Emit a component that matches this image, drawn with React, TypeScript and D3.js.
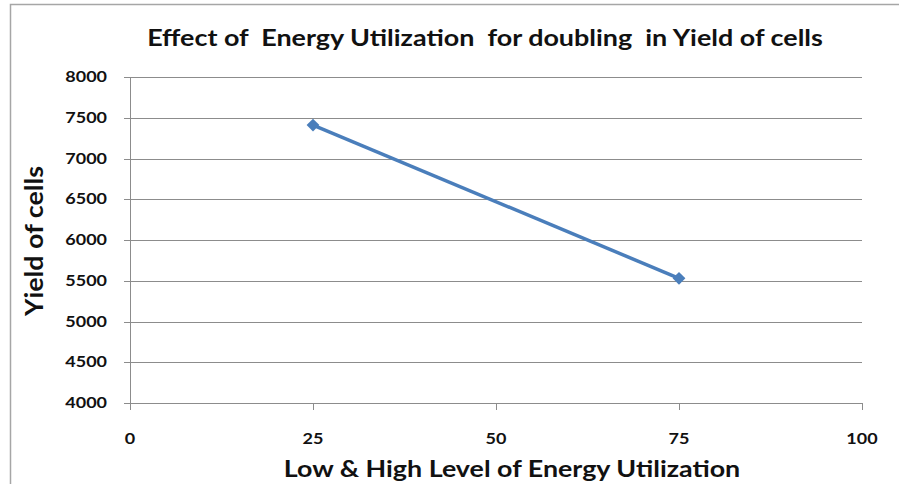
import React from "react";
import * as d3 from "d3";

const xValues = [25, 75];
const yValues = [7410, 5530];
const xTicks = [0, 25, 50, 75, 100];
const yTicks = [4000, 4500, 5000, 5500, 6000, 6500, 7000, 7500, 8000];
const title = "Effect of  Energy Utilization  for doubling  in Yield of cells";
const xTitle = "Low & High Level of Energy Utilization";
const yTitle = "Yield of cells";

export default function App() {
  const W = 899, H = 484;
  const left = 130, right = 862, top = 77, bottom = 403;
  const x = d3.scaleLinear().domain([0, 100]).range([left, right]);
  const y = d3.scaleLinear().domain([4000, 8000]).range([bottom, top]);
  const pts = xValues.map((v, i) => [x(v), y(yValues[i])] as [number, number]);
  const line = d3.line()(pts) || "";
  const marker = d3.symbol().type(d3.symbolSquare).size(82)() || "";
  const font = "Lato, 'Open Sans', sans-serif";
  const grid = "#8c8c8c";
  const sx = 1.2;
  return (
    <svg width={W} height={H} style={{ position: "absolute", left: 0, top: 0, background: "#fff" }}>
      <rect x={10.5} y={4.5} width={W} height={H} fill="#fff" stroke="#a6a6a6" strokeWidth={1.5} />
      <g transform={`translate(485,46) scale(1.17,1)`}>
        <text x={0} y={0} textAnchor="middle" fontFamily={font} fontWeight="bold" fontSize={23}
          style={{ whiteSpace: "pre" }} fill="#111">{title}</text>
      </g>
      {yTicks.map((t) => (
        <g key={t}>
          <line x1={left - 6} x2={right} y1={Math.round(y(t)) + 0.5} y2={Math.round(y(t)) + 0.5} stroke={grid} strokeWidth={1} />
          <g transform={`translate(107,${y(t) + 5}) scale(${sx},1)`}>
            <text x={0} y={0} textAnchor="end" fontFamily={font} fontWeight="bold" fontSize={15} fill="#111">{t}</text>
          </g>
        </g>
      ))}
      <line x1={left + 0.5} x2={left + 0.5} y1={top} y2={bottom} stroke={grid} strokeWidth={1} />
      {xTicks.map((t) => (
        <g key={t}>
          <line x1={Math.round(x(t)) + 0.5} x2={Math.round(x(t)) + 0.5} y1={bottom} y2={bottom + 7} stroke={grid} strokeWidth={1} />
          <g transform={`translate(${x(t)},443.5) scale(${sx},1)`}>
            <text x={0} y={0} textAnchor="middle" fontFamily={font} fontWeight="bold" fontSize={15} fill="#111">{t}</text>
          </g>
        </g>
      ))}
      <g transform={`translate(512,477) scale(1.22,1)`}>
        <text x={0} y={0} textAnchor="middle" fontFamily={font} fontWeight="bold" fontSize={22} fill="#111">{xTitle}</text>
      </g>
      <text transform={`translate(43,241) rotate(-90) scale(1.12,1)`} textAnchor="middle" fontFamily={font} fontWeight="bold" fontSize={24} fill="#111">{yTitle}</text>
      <path d={line} fill="none" stroke="#4a7ebb" strokeWidth={3.5} />
      {pts.map((p, i) => (
        <path key={i} d={marker} transform={`translate(${p[0]},${p[1]}) rotate(45)`} fill="#4a7ebb" />
      ))}
    </svg>
  );
}
